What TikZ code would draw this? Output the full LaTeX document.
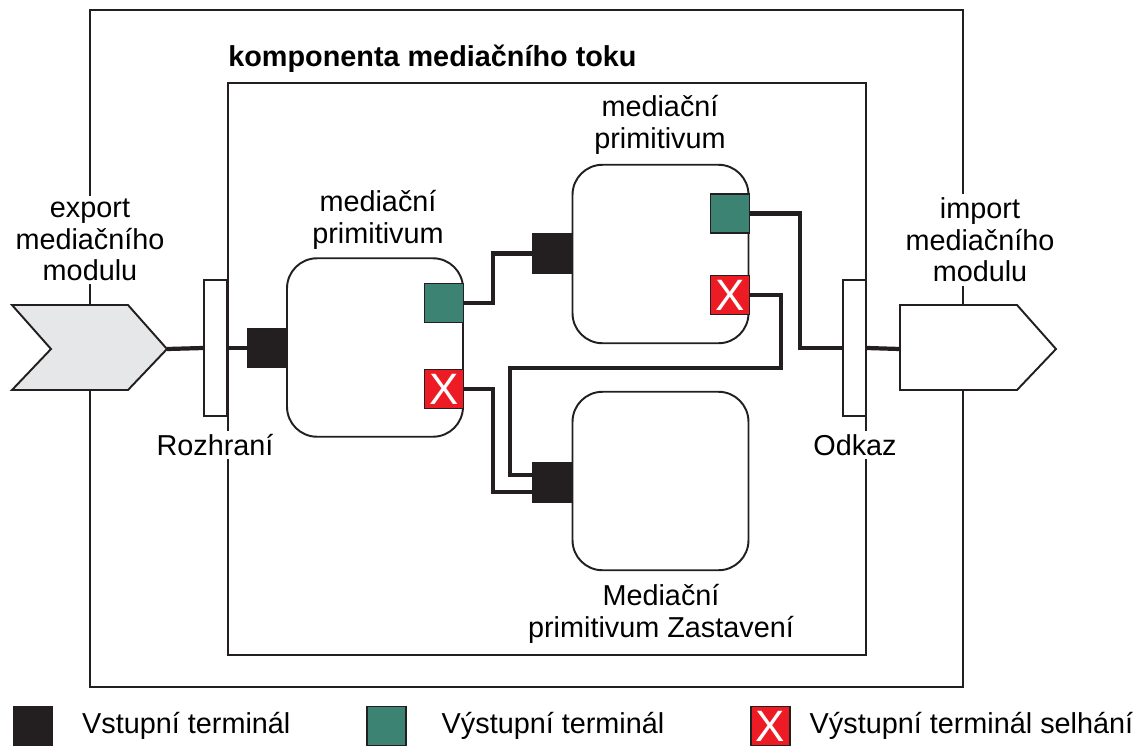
\documentclass[tikz,border=0pt]{standalone}
\usepackage{fontspec}
\setmainfont{Liberation Sans}
\usetikzlibrary{positioning,calc}
\definecolor{termblack}{RGB}{35,31,32}
\definecolor{termgreen}{RGB}{60,131,116}
\definecolor{termred}{RGB}{237,28,36}
\definecolor{chevgray}{RGB}{230,231,232}

\begin{document}
\begin{tikzpicture}[
  x=0.02cm, y=-0.02cm,
  frame/.style={draw=termblack, line width=1.1pt},
  labeltext/.style={font=\fontsize{16.4}{17.9}\selectfont, align=center, fill=white, inner sep=2pt},
  primbox/.style={frame, fill=white, rounded corners=0.6cm, minimum width=3.52cm, minimum height=3.57cm},
  terminal/.style={draw=termblack, line width=1pt, minimum size=0.78cm, inner sep=0pt},
  interm/.style={terminal, fill=termblack},
  outterm/.style={terminal, fill=termgreen},
  failterm/.style={terminal, fill=termred, text=white, font=\fontsize{25}{25}\selectfont},
  bindbar/.style={frame, fill=white, minimum width=0.46cm, minimum height=2.72cm, inner sep=0pt},
  wire/.style={draw=termblack, line width=2.4pt}
]
  \useasboundingbox (0,0) rectangle (1140,748);

  \draw[frame] (90,10) rectangle (963,687);
  \draw[frame] (228,83) rectangle (866,655);
  \node[font=\fontsize{16.4}{17.9}\selectfont\bfseries, anchor=base west, inner sep=0pt] (title) at (228,66) {komponenta mediačního toku};

  \node[labeltext] (exptext) at (90,240) {export\\mediačního\\modulu};
  \node[labeltext] (imptext) at (980,240) {import\\mediačního\\modulu};
  \node[labeltext] (roztext) at (215,445) {Rozhraní};
  \node[labeltext] (odktext) at (855,445) {Odkaz};

  \draw[frame, fill=chevgray] (12,305) -- (128,305) -- (167,349) -- (128,390) -- (12,390) -- (51,349) -- cycle;
  \coordinate (exptip) at (167,349);
  \draw[frame, fill=white] (900,305) -- (1017,305) -- (1056,349) -- (1017,390) -- (900,390) -- cycle;
  \coordinate (imptail) at (900,349);

  \node[bindbar] (roz) at (215.5,348) {};
  \node[bindbar] (odk) at (854.5,348) {};

  \node[primbox] (prim1) at (375,347.5) {};
  \node[primbox] (prim2) at (660.5,254) {};
  \node[primbox] (prim3) at (660.5,481) {};
  \node[labeltext] (prim1text) at (378,220) {mediační\\primitivum};
  \node[labeltext] (prim2text) at (660,125) {mediační\\primitivum};
  \node[labeltext] (prim3text) at (661,614) {Mediační\\primitivum Zastavení};

  \node[interm] (in1) at (267,348) {};
  \node[outterm] (out1) at (444,303) {};
  \node[failterm] (fail1) at (444,389) {X};
  \node[interm] (in2) at (552.5,253.5) {};
  \node[outterm] (out2) at (730,213.5) {};
  \node[failterm] (fail2) at (730,295) {X};
  \node[interm] (in3) at (552.5,482.5) {};

  \draw[wire] (exptip) -- (roz.west);
  \draw[wire] (roz.east) -- (in1.west);
  \draw[wire] (out1.east) -- ++(29,0) |- (in2.west);
  \draw[wire] (fail1.east) -- ++(29,0) |- ($(in3.west)+(0,9.5)$);
  \draw[wire] (fail2.east) -- ++(31,0) -- ++(0,73) -| ($(in3.west)+(-22,-7.5)$) -- ($(in3.west)+(0,-7.5)$);
  \draw[wire] (out2.east) -- ++(50,0) |- (odk.west);
  \draw[wire] (odk.east) -- (imptail);

  \node[interm] (leg1) at (33,726) {};
  \node[labeltext, right=0.5cm of leg1] (leg1text) {Vstupní terminál};
  \node[outterm] (leg2) at (386.5,726) {};
  \node[labeltext, right=0.62cm of leg2] (leg2text) {Výstupní terminál};
  \node[failterm] (leg3) at (770.5,726) {X};
  \node[labeltext, right=0.3cm of leg3] (leg3text) {Výstupní terminál selhání};
\end{tikzpicture}
\end{document}
